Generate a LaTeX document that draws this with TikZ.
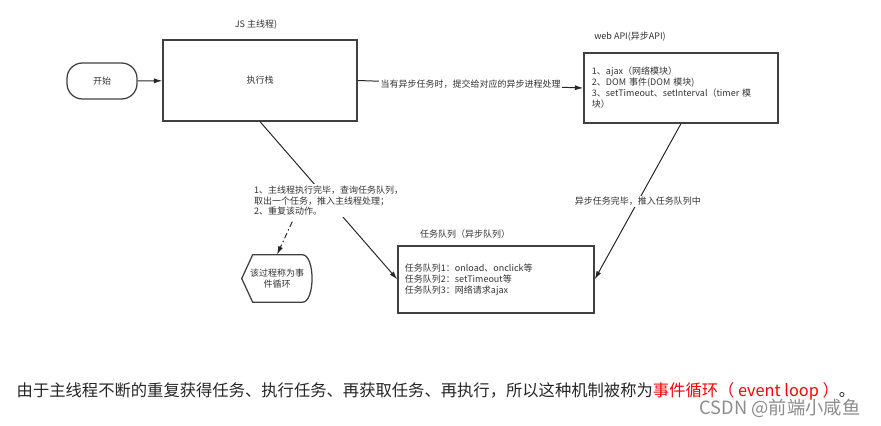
\documentclass[tikz,border=0pt]{standalone}
\usepackage{fontspec}
\setmainfont{Noto Sans CJK SC}
\usetikzlibrary{arrows.meta,calc}

\begin{document}
\begin{tikzpicture}[x=0.025cm,y=-0.025cm,
    frame/.style={draw=black!75,line width=0.9pt},
    link/.style={draw=black!85,line width=0.7pt,-{Latex[length=6pt,width=3.6pt]}},
    small/.style={font=\fontsize{6.4}{7.8}\selectfont,text=black!80},
    note/.style={small,fill=white,align=left,inner sep=1pt}]
    \useasboundingbox (0,0) rectangle (881,426);
    \node[frame,small,rounded corners=11pt,minimum width=1.75cm,minimum height=0.9cm] (start) at (102,81) {开始};
    \node[frame,small,minimum width=4.85cm,minimum height=2.025cm] (stack) at (260,80.5) {执行栈};
    \node[small] (jstitle) at (256,25) {JS 主线程)};
    \node[frame,small,align=left,minimum width=4.85cm,minimum height=1.75cm,text width=4.45cm,inner xsep=0.2cm] (webapi) at (681,88) {1、ajax（网络模块）\\2、DOM 事件(DOM 模块)\\3、setTimeout、setInterval（timer 模\\块）};
    \node[small] (apititle) at (630,37) {web API(异步API)};
    \node[frame,small,align=left,minimum width=4.9cm,minimum height=1.675cm,text width=4.55cm,inner xsep=0.175cm] (queue) at (496,279.5) {任务队列1：onload、onclick等\\任务队列2：setTimeout等\\任务队列3：网络请求ajax};
    \node[small] (queuetitle) at (465,234) {任务队列（异步队列）};
    \node[small,align=center,minimum width=1.75cm,minimum height=1.175cm] (loop) at (277,278.5) {该过程称为事\\件循环};
    \draw[frame] (loop.west) -- ($(loop.north west)+(11,0)$) -- ($(loop.north east)+(-10,0)$)
      .. controls ($(loop.north east)+(3,0)$) and ($(loop.south east)+(3,0)$) .. ($(loop.south east)+(-10,0)$)
      -- ($(loop.south west)+(11,0)$) -- cycle;
    \draw[link] (start) -- (stack);
    \draw[link] (stack.east) -- node[note] (asynclbl) {当有异步任务时，提交给对应的异步进程处理} (webapi.west);
    \draw[link] (webapi.south) -- node[note] (donelbl) {异步任务完毕，推入任务队列中} (queue.east);
    \draw[link] (stack.south) -- node[note] (looplbl) {1、主线程执行完毕，查询任务队列，\\取出一个任务，推入主线程处理；\\2、重复该动作。} (queue.west);
    \draw[link,dash pattern=on 4pt off 2pt on 1pt off 2pt] ($(looplbl.south west)+(40,4)$) -- (loop.north);
    \node[font=\fontsize{11.6}{14}\selectfont,text=black!85] (summary) at (436,391) {由于主线程不断的重复获得任务、执行任务、再获取任务、再执行，所以这种机制被称为\textcolor{red}{事件循环（ event loop ）}。};
    \node[font=\fontsize{13}{15}\selectfont,text=black!45] (mark) at (780,408) {CSDN @前端小咸鱼};
\end{tikzpicture}
\end{document}
